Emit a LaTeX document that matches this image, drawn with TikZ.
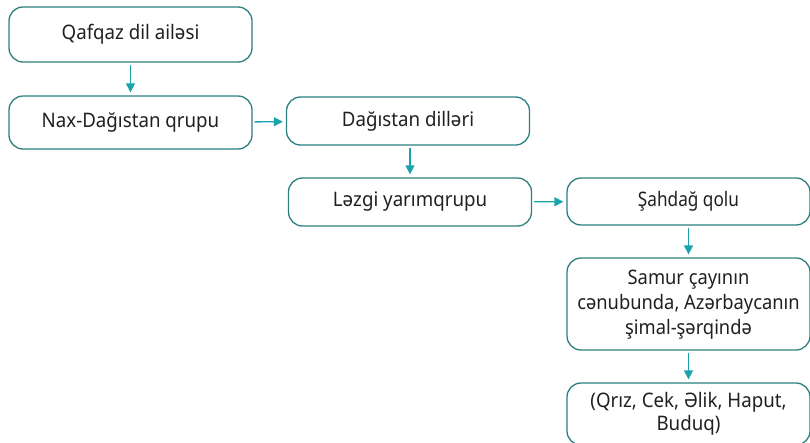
\documentclass[tikz,border=0pt]{standalone}
\usepackage{fontspec}
\setmainfont{Noto Sans}[FakeStretch=0.935]
\usetikzlibrary{arrows.meta}
\definecolor{boxline}{HTML}{2E7F80}
\definecolor{arrowc}{HTML}{1AA3AA}
\definecolor{txt}{HTML}{231F20}
\newcommand\squeezed[2]{\scalebox{#1}[1]{\begin{tabular}{@{}c@{}}#2\end{tabular}}}
\begin{document}
\begin{tikzpicture}[x=1pt,y=-1pt,
  box/.style={draw=boxline, line width=1.3pt, rounded corners=14pt, fill=white,
    minimum width=243pt, inner sep=0pt, align=center, text=txt,
    font=\fontsize{20}{25}\selectfont},
  conn/.style={draw=arrowc, line width=1.4pt, -{Triangle[length=9pt,width=9pt]}}]
\useasboundingbox (0,0) rectangle (810,442);
\clip (0,0) rectangle (810,442);
\node[box, minimum height=55pt] (a) at (130.5,34.5) {\raisebox{-1.5pt}{Qafqaz dil ailəsi}};
\node[box, minimum height=53pt] (b) at (130.5,122.5) {Nax-Dağıstan qrupu};
\node[box, minimum height=48pt] (c) at (408,121) {Dağıstan dilləri};
\node[box, minimum height=48pt] (d) at (410,202) {Ləzgi yarımqrupu};
\node[box, minimum height=47pt] (e) at (688.5,201.5) {\squeezed{0.92}{Şahdağ qolu}};
\node[box, minimum height=92pt] (f) at (688.5,304) {\raisebox{-4pt}{\squeezed{0.98}{Samur çayının\\cənubunda, Azərbaycanın\\şimal-şərqində}}};
\node[box, minimum height=62pt, font=\fontsize{20}{23}\selectfont] (g) at (688.5,414) {\raisebox{-2pt}{\squeezed{1}{(Qrız, Cek, Əlik, Haput,\\Buduq)}}};
\draw[conn, shorten <=2pt, shorten >=3pt] (a) -- (b);
\draw[conn, shorten <=2pt, shorten >=3pt] (b) -- (c);
\draw[conn, shorten <=2pt, shorten >=3pt] (c.south -| d.north) -- (d.north);
\draw[conn, shorten <=2pt, shorten >=3pt] (d) -- (e);
\draw[conn, shorten <=2pt, shorten >=3pt] (e) -- (f);
\draw[conn, shorten <=2pt, shorten >=3pt] (f) -- (g);
\end{tikzpicture}
\end{document}
